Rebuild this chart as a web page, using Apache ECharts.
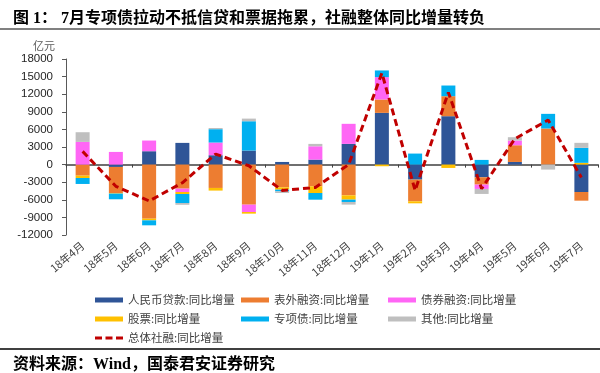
<!DOCTYPE html>
<html><head><meta charset="utf-8">
<script src="https://cdn.jsdelivr.net/npm/echarts@6/dist/echarts.min.js"></script>
<style>html,body{margin:0;padding:0;background:#fff}#c{width:600px;height:373px}</style>
</head><body><div id="c"></div>
<script>
const categories = ['18年4月','18年5月','18年6月','18年7月','18年8月','18年9月','18年10月','18年11月','18年12月','19年1月','19年2月','19年3月','19年4月','19年5月','19年6月','19年7月'];
const loan     = [0, -400, 2280, 3700, 1600, 2390, 450, 850, 3530, 8820, -2560, 8250, -2160, 450, 0, -4670];
const offBal   = [-1880, -4440, -9220, -4100, -3980, -6830, -3870, -3700, -5240, 2280, -3700, 3410, -1250, 2850, 6150, -1480];
const bond     = [3870, 2160, 1820, -570, 2160, -1250, 0, 2270, 3420, 3810, 0, 0, -740, 800, 0, 0];
const stock    = [-400, -100, -280, -340, -450, -280, -400, -1140, -730, -280, -340, -570, 0, 0, 0, 300];
const special  = [-1020, -970, -850, -1540, 2280, 5000, -300, -1140, -400, 1140, 1880, 1820, 800, 0, 2500, 2560];
const other    = [1650, 0, 0, -300, 200, 450, -270, 410, -450, 0, 0, 0, -850, 570, -850, 850];
const total    = [2250, -3700, -6200, -3100, 1800, -200, -4400, -3900, 0, 15600, -4400, 12300, -4100, 4400, 7600, -2200];
const yTicks = { min: -12000, max: 18000, interval: 3000 };

const names = ['人民币贷款:同比增量','表外融资:同比增量','债券融资:同比增量','股票:同比增量','专项债:同比增量','其他:同比增量','总体社融:同比增量'];
const colors = ['#2F5597','#ED7D31','#FF66F5','#FFC000','#00B0F0','#BFBFBF','#C00000'];
const barData = [loan, offBal, bond, stock, special, other];

const cjk = "'Noto Sans CJK SC', sans-serif";
const chart = echarts.init(document.getElementById('c'));
const legendBase = {
  orient: 'vertical', top: 289, itemWidth: 28, itemHeight: 5, itemGap: 7,
  textStyle: { fontSize: 11.5, color: '#404040', fontFamily: cjk, lineHeight: 12 },
  selectedMode: false
};
const item = n => ({ name: n, icon: 'rect' });
chart.setOption({
  animation: false,
  title: [
    { text: '图 1： 7月专项债拉动不抵信贷和票据拖累，社融整体同比增量转负', left: 8, top: 6,
      textStyle: { fontSize: 16, fontWeight: 'bold', color: '#000', fontFamily: "'Liberation Serif','Noto Sans CJK SC',serif" } },
    { text: '资料来源：Wind，国泰君安证券研究', left: 8, top: 352,
      textStyle: { fontSize: 16, fontWeight: 'bold', color: '#000', fontFamily: "'Liberation Serif','Noto Sans CJK SC',serif" } }
  ],
  graphic: [
    { type: 'rect', left: 0, top: 28, shape: { width: 600, height: 2 }, style: { fill: '#808080' } },
    { type: 'rect', left: 0, top: 348, shape: { width: 600, height: 2 }, style: { fill: '#404040' } },
    { type: 'text', left: 33, top: 40, style: { text: '亿元', fontSize: 11, fill: '#595959', fontFamily: cjk } }
  ],
  legend: [
    Object.assign({}, legendBase, { left: 90, data: [item(names[0]), item(names[3])] }),
    Object.assign({}, legendBase, { left: 236, data: [item(names[1]), item(names[4])] }),
    Object.assign({}, legendBase, { left: 383, data: [item(names[2]), item(names[5])] }),
    Object.assign({}, legendBase, { left: 90, top: 327, itemHeight: 3,
      data: [{ name: names[6], icon: 'path://M0,0h7v3h-7z M10.5,0h7v3h-7z M21,0h7v3h-7z', itemStyle: { color: colors[6] } }] })
  ],
  grid: { left: 66, right: 2, top: 59, bottom: 138, containLabel: false },
  xAxis: [
    { type: 'category', data: categories,
      axisLine: { onZero: true, lineStyle: { color: '#404040', width: 1.5 } },
      axisTick: { show: true, length: 3, lineStyle: { color: '#404040' } },
      axisLabel: { show: false } },
    { type: 'category', data: categories, position: 'bottom',
      axisLine: { show: false, onZero: false }, axisTick: { show: false },
      axisLabel: { rotate: 40, fontSize: 11, color: '#404040', margin: 9, fontFamily: cjk } }
  ],
  yAxis: {
    type: 'value', min: yTicks.min, max: yTicks.max, interval: yTicks.interval,
    axisLine: { show: true, lineStyle: { color: '#595959' } },
    axisTick: { show: true, length: 4, lineStyle: { color: '#595959' } },
    axisLabel: { fontSize: 11.5, color: '#262626', margin: 13, fontFamily: "'Liberation Sans', sans-serif",
      formatter: v => String(v) },
    splitLine: { show: false }
  },
  series: barData.map((d, i) => ({
    name: names[i], type: 'bar', stack: 'a', data: d, barWidth: 14, xAxisIndex: 0,
    itemStyle: { color: colors[i] }
  })).concat([{
    name: names[6], type: 'line', data: total, xAxisIndex: 0, symbol: 'none', z: 10,
    lineStyle: { color: colors[6], width: 3, type: [7, 4] }, itemStyle: { color: colors[6] }
  }])
});
</script></body></html>
